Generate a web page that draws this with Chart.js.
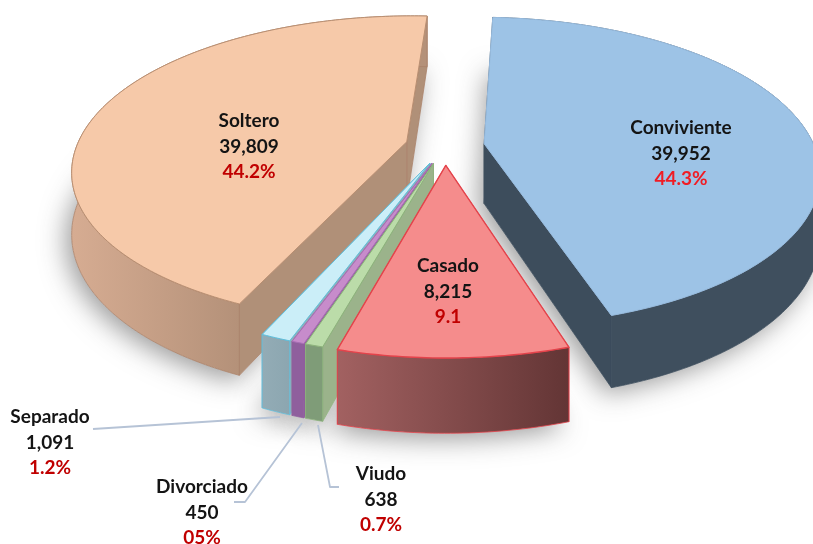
<!DOCTYPE html>
<html><head><meta charset="utf-8">
<style>html,body{margin:0;padding:0;background:#fff}canvas{display:block}</style>
<script src="https://cdn.jsdelivr.net/npm/chart.js@4"></script>
</head><body><canvas id="c" width="813" height="544"></canvas>
<script>
const categories=['Conviviente','Casado','Viudo','Divorciado','Separado','Soltero'];
const values=[39952,8215,638,450,1091,39809];
const countLabels=['39,952','8,215','638','450','1,091','39,809'];
const percentLabels=['44.3%','9.1','0.7%','05%','1.2%','44.2%'];
const percentColors=['#F01C24','#C00000','#C00000','#C00000','#C00000','#C00000'];
const topColors=['#9DC3E6','#F58C8C','#BBDCA9','#C78CCB','#CBEEF8','#F6C9A9'];
const edgeColors=['#97BBDE','#E4434B','#8DB27C','#A96FB5','#62BEDA','#B98F72'];
const wallEdgeColors=['#3F4F5E','#E4434B','#8DB27C','#8F5F9D','#62BEDA','#A98269'];
const wallLeft=['#3F4F5E','#A26161','#7F9C78','#8F5F9D','#93ACB6','#D6AC92'];
const wallRight=['#3F4F5E','#633535','#7F9C78','#8F5F9D','#8CA6B0','#B49179'];
const faceColors=['#3D4D5C','#7A4444','#9BB38B','#8F5F9D','#93ACB6','#B09078'];
const offsets=[104,110,104,104,104,104];
const paintOrder=[5,0,4,3,2,1];
const labelCenters=[[681,128],[448,266],[381,474],[202,487],[50,417],[249,121]];
const leaderPaths=[null,null,[[339,487],[330,487],[318,425]],[[234,502],[245,502],[302,423]],[[93,429],[280,417]],null];

const view={cx:445,cy:146,R:330,Rk:150,p:0.18,depth:60,lineGap:25.5};
function project(X,Y){const s=1/(1-view.p*Y);return {x:view.cx+view.R*X*s,y:view.cy+view.Rk*Y*s,d:view.depth*s};}

const pie3d={id:'pie3d',
  beforeDatasetDraw(){return false;},
  afterDatasetsDraw(chart){
    const ctx=chart.ctx, arcs=chart.getDatasetMeta(0).data;
    const geo=arcs.map(el=>{
      const p=el.getProps(['startAngle','endAngle','outerRadius']);
      const mid=(p.startAngle+p.endAngle)/2, off=(el.options.offset/4)/p.outerRadius;
      const ox=off*Math.cos(mid), oy=off*Math.sin(mid);
      const apex=project(ox,oy), rim=[];
      const n=Math.max(4,Math.ceil((p.endAngle-p.startAngle)/0.015));
      for(let k=0;k<=n;k++){const a=p.startAngle+(p.endAngle-p.startAngle)*k/n;
        const q=project(ox+Math.cos(a),oy+Math.sin(a));q.front=Math.sin(a)>0;rim.push(q);}
      return {apex,rim};
    });
    const poly=(pts)=>{ctx.beginPath();pts.forEach((q,i)=>i?ctx.lineTo(q[0],q[1]):ctx.moveTo(q[0],q[1]));ctx.closePath();};
    ctx.save();ctx.lineJoin='round';
    // soft shadow under each slice
    paintOrder.forEach(i=>{const g=geo[i];
      ctx.save();ctx.shadowColor='rgba(60,60,60,0.5)';ctx.shadowBlur=26;ctx.shadowOffsetX=-6;ctx.shadowOffsetY=6;
      ctx.fillStyle='#fff';
      poly([[g.apex.x,g.apex.y+g.apex.d],...g.rim.map(q=>[q.x,q.y+q.d])]);ctx.fill();ctx.restore();});
    paintOrder.forEach(i=>{const g=geo[i],rim=g.rim,a=g.apex,first=rim[0],last=rim[rim.length-1];
      const face=(q)=>{poly([[a.x,a.y],[q.x,q.y],[q.x,q.y+q.d],[a.x,a.y+a.d]]);ctx.fillStyle=faceColors[i];ctx.fill();
        ctx.strokeStyle=wallEdgeColors[i];ctx.lineWidth=0.8;ctx.stroke();};
      face(last);face(first);
      const fr=rim.filter(q=>q.front),xs=fr.map(q=>q.x);
      const gr=ctx.createLinearGradient(Math.min(...xs),0,Math.max(...xs),0);
      gr.addColorStop(0,wallLeft[i]);gr.addColorStop(1,wallRight[i]);
      poly([...rim.map(q=>[q.x,q.y]),...rim.slice().reverse().map(q=>[q.x,q.y+q.d])]);
      ctx.fillStyle=gr;ctx.fill();ctx.strokeStyle=wallEdgeColors[i];ctx.lineWidth=0.8;ctx.stroke();
      poly([[a.x,a.y],...rim.map(q=>[q.x,q.y])]);
      ctx.fillStyle=arcs[i].options.backgroundColor;ctx.fill();
      ctx.strokeStyle=arcs[i].options.borderColor;ctx.lineWidth=i===1?1.4:1;ctx.stroke();
    });
    // leader lines
    ctx.strokeStyle='#B6C3D6';ctx.lineWidth=1.8;
    leaderPaths.forEach(path=>{if(!path)return;ctx.beginPath();path.forEach((q,k)=>k?ctx.lineTo(q[0],q[1]):ctx.moveTo(q[0],q[1]));ctx.stroke();});
    // labels
    ctx.textAlign='center';ctx.textBaseline='middle';ctx.font='bold 19px Lato';
    categories.forEach((name,i)=>{const [x,y]=labelCenters[i];
      ctx.fillStyle='#141414';ctx.fillText(name,x,y);ctx.fillText(countLabels[i],x,y+view.lineGap);
      ctx.fillStyle=percentColors[i];ctx.fillText(percentLabels[i],x,y+2*view.lineGap);});
    ctx.restore();
  }};

new Chart(document.getElementById('c'),{type:'pie',
  data:{labels:categories,datasets:[{data:values,backgroundColor:topColors,borderColor:edgeColors,offset:offsets,borderWidth:0}]},
  options:{responsive:false,animation:false,rotation:3,layout:{padding:0},
    plugins:{legend:{display:false},tooltip:{enabled:false}}},
  plugins:[pie3d]});
</script></body></html>
